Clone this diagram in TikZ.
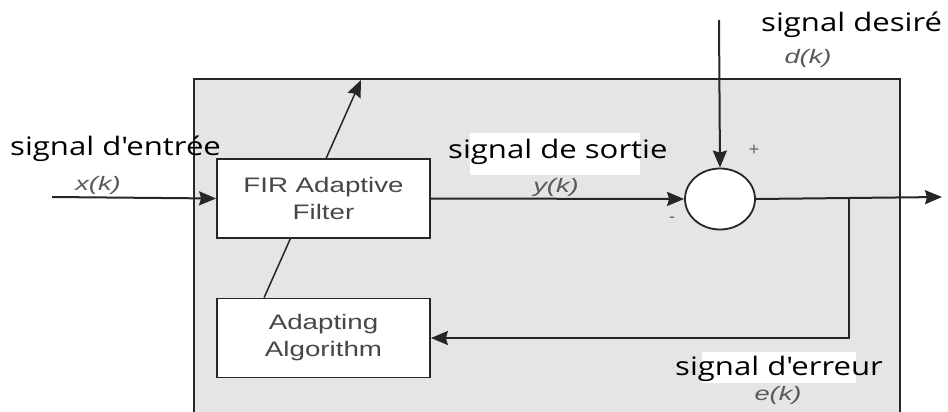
\documentclass[tikz,border=0pt]{standalone}
\usepackage{fontspec}
\usepackage{graphicx}
\setmainfont{Liberation Sans}
\newfontfamily\labelfont{Open Sans}
\usetikzlibrary{arrows.meta,shapes.geometric,backgrounds,calc}
% horizontally widened text
\newcommand\wide[2][1.22]{\scalebox{#1}[1]{#2}}

\begin{document}
\begin{tikzpicture}[x=1pt,y=-1pt,
  headtip/.style={-{Stealth[length=17pt,width=14pt,inset=2pt]}},
  wire/.style={line width=2pt, draw=black!85},
  arr/.style={wire, headtip},
  block/.style={draw=black!85, line width=1.8pt, fill=white, minimum width=213pt,
    minimum height=79pt, inner sep=0pt, font=\fontsize{21}{27}\selectfont,
    text=black!72, align=center},
  sig/.style={font=\labelfont\fontsize{25.5}{30}\selectfont, inner sep=0pt, anchor=base west},
  var/.style={font=\fontsize{19.5}{22}\selectfont\itshape, text=black!65, inner sep=0pt},
  sign/.style={font=\fontsize{18}{20}\selectfont, text=black!60, inner sep=0pt}]

\useasboundingbox (0,0) rectangle (948,412);

% blocks
\node[block] (fir) at (323.5,198.5) {\wide[1.32]{FIR Adaptive}\\\wide[1.32]{Filter}};
\node[block] (adapt) at (323.5,338) {\wide[1.32]{Adapting}\\\wide[1.32]{Algorithm}};
\node[draw=black!85, line width=1.8pt, fill=white, ellipse, minimum width=70pt,
  minimum height=61pt, inner sep=0pt] (sum) at (720,199) {};

% free ends
\coordinate (in) at (52,197);
\coordinate (dtop) at (719,20);
\coordinate (out) at (942,197);
\coordinate (tap) at (849,197);
\coordinate (adbase) at ([xshift=48pt]adapt.north west);
\coordinate (adtip) at (361,80);

\begin{scope}[on background layer]
  % enclosing frame
  \fill[black!10] (194,79) rectangle (900,415);
  \draw[line width=1.6pt, black!85] (194,415) -- (194,79) -- (900,79) -- (900,415);
  % adaptation arrow through the filter
  \draw[line width=1.5pt, black!85, headtip] (adbase) -- (adtip);
  % highlight behind labels
  \fill[white] (470,133) rectangle (640,175);
  \fill[white] (702,352) rectangle (856,383);
\end{scope}

% connectors
\draw[arr] (in) -- (fir.west);
\draw[arr] (fir.east) -- (sum.west);
\draw[arr] (dtop) -- (sum.north);
\draw[arr] (sum.east) -- (out);
\draw[arr] (tap) |- (adapt.east);

% labels
\node[sig] (lin) at (10,155) {\wide{signal d'entrée}};
\node[var] (lx) at (98,185) {\wide[1.4]{x(k)}};
\node[sig] (lout) at (448,158) {\wide{signal de sortie}};
\node[var] (ly) at (556,187) {\wide[1.4]{y(k)}};
\node[sig] (ld) at (761,32) {\wide{signal desiré}};
\node[var] (ldk) at (808,58) {\wide[1.4]{d(k)}};
\node[sig] (le) at (675,375) {\wide{signal d'erreur}};
\node[var] (lek) at (778,395) {\wide[1.4]{e(k)}};
\node[sign] (plus) at (754,150) {+};
\node[sign] (minus) at (672,220) {-};
\end{tikzpicture}
\end{document}
